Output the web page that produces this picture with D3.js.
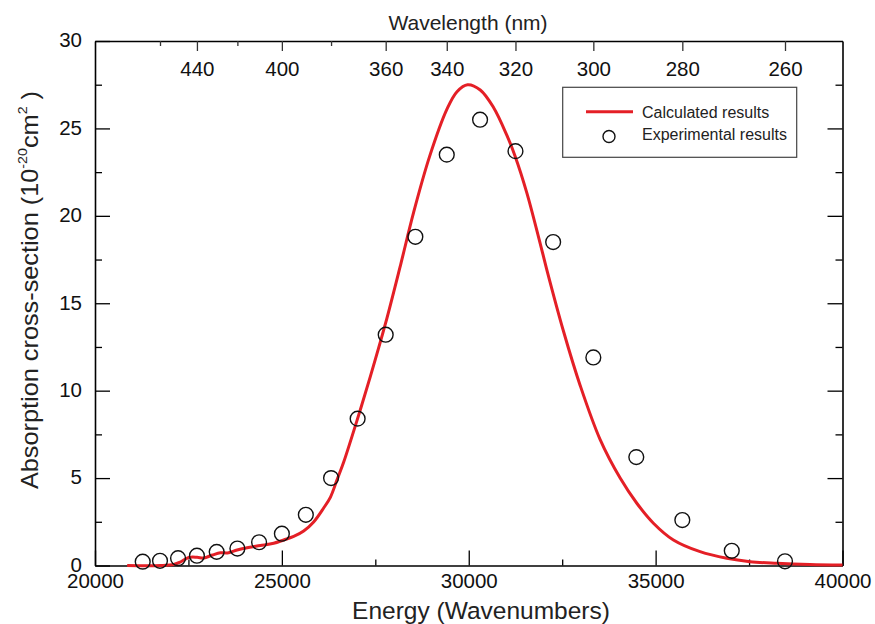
<!DOCTYPE html>
<html>
<head>
<meta charset="utf-8">
<script src="https://cdn.jsdelivr.net/npm/d3@7/dist/d3.min.js"></script>
<style>
  html, body { margin: 0; padding: 0; background: #fff; }
  svg { display: block; font-family: "Liberation Sans", Arial, Helvetica, sans-serif; }
</style>
</head>
<body>
<svg id="chart" width="875" height="624"></svg>
<script>
// Experimental absorption cross-section, sampled every 10 nm
const expWavelength = [470, 460, 450, 440, 430, 420, 410, 400, 390, 380, 370,
                       360, 350, 340, 330, 320, 310, 300, 290, 280, 270, 260];
const expValue = [0.22, 0.27, 0.42, 0.56, 0.78, 0.97, 1.33, 1.82, 2.9, 5.0, 8.4,
                  13.2, 18.8, 23.5, 25.5, 23.7, 18.5, 11.9, 6.2, 2.6, 0.84, 0.24];

// Calculated spectrum (energy in cm^-1, cross-section in 1e-20 cm^2)
const calcEnergy = [20861, 21751, 22107, 22286, 22508, 22733, 22909, 23142, 23356, 23543,
                    23802, 24104, 24425, 24781, 25048, 25316, 25583, 25850, 26118, 26297,
                    26476, 26652, 27011, 27366, 27767, 28188, 28525, 28953, 29417, 29685,
                    29968, 30308, 30663, 31021, 31243, 31556, 31973, 32091, 32535, 32981,
                    33516, 34051, 34497, 34941, 35476, 36190, 36904, 37527, 38241, 39131, 40000];
const calcValue = [0, 0, 0.06, 0.2, 0.46, 0.47, 0.43, 0.6, 0.73, 0.72,
                   0.89, 1.03, 1.14, 1.27, 1.46, 1.66, 1.97, 2.49, 3.29, 3.9,
                   4.9, 5.9, 8.3, 10.8, 13.8, 17.3, 20.2, 23.4, 26.1, 27.1,
                   27.5, 27.2, 26.2, 24.6, 23.4, 21.3, 17.9, 16.9, 13.4, 10.3,
                   7.2, 5.0, 3.56, 2.42, 1.46, 0.79, 0.41, 0.22, 0.13, 0.06, 0.03];

// Axis ticks
const energyMajor = [20000, 25000, 30000, 35000, 40000];
const energyMinor = [22500, 27500, 32500, 37500];
const yMajor = [0, 5, 10, 15, 20, 25, 30];
const yMinor = [2.5, 7.5, 12.5, 17.5, 22.5, 27.5];
const wavelengthMajor = [440, 400, 360, 340, 320, 300, 280, 260];
const wavelengthMinor = [460, 420, 380];

const legendLabels = ["Calculated results", "Experimental results"];

const RED = "#e41f26";
const svg = d3.select("#chart");
const m = { left: 95, right: 842.5, top: 41, bottom: 565.5 };

const x = d3.scaleLinear().domain([20000, 40000]).range([m.left, m.right]);
const y = d3.scaleLinear().domain([0, 30]).range([m.bottom, m.top]);
const toEnergy = nm => 1e7 / nm;

function styleAxis(g) {
  g.selectAll(".domain").attr("stroke", "#000").attr("stroke-width", 1.6);
  g.selectAll(".tick line").attr("stroke", "#000").attr("stroke-width", 1.3);
  g.selectAll(".tick text").attr("fill", "#111").attr("font-size", 20.5);
}

// Bottom axis (ticks point inward)
svg.append("g").attr("transform", `translate(0,${m.bottom})`)
  .call(d3.axisBottom(x).tickValues(energyMajor).tickFormat(d3.format("d"))
    .tickSizeInner(-15).tickSizeOuter(0).tickPadding(7.5))
  .call(styleAxis);
svg.append("g").attr("transform", `translate(0,${m.bottom})`)
  .call(d3.axisBottom(x).tickValues(energyMinor).tickFormat("")
    .tickSizeInner(-6).tickSizeOuter(0))
  .call(g => g.select(".domain").remove())
  .call(styleAxis);

// Left axis
svg.append("g").attr("transform", `translate(${m.left},0)`)
  .call(d3.axisLeft(y).tickValues(yMajor).tickFormat(d3.format("d"))
    .tickSizeInner(-15).tickSizeOuter(0).tickPadding(13))
  .call(styleAxis)
  .call(g => g.selectAll(".tick text").attr("dy", "0.28em"));
svg.append("g").attr("transform", `translate(${m.left},0)`)
  .call(d3.axisLeft(y).tickValues(yMinor).tickFormat("")
    .tickSizeInner(-7).tickSizeOuter(0))
  .call(g => g.select(".domain").remove())
  .call(styleAxis);

// Right axis (no labels)
svg.append("g").attr("transform", `translate(${m.right},0)`)
  .call(d3.axisRight(y).tickValues(yMajor.slice(1, -1)).tickFormat("")
    .tickSizeInner(-15).tickSizeOuter(0))
  .call(styleAxis);
svg.append("g").attr("transform", `translate(${m.right},0)`)
  .call(d3.axisRight(y).tickValues(yMinor).tickFormat("")
    .tickSizeInner(-7).tickSizeOuter(0))
  .call(g => g.select(".domain").remove())
  .call(styleAxis);

// Top axis: wavelength in nm, labels drawn inside the frame
svg.append("g").attr("transform", `translate(0,${m.top})`)
  .call(d3.axisBottom(x).tickValues(wavelengthMajor.map(toEnergy))
    .tickFormat(d => Math.round(1e7 / d))
    .tickSizeInner(10).tickSizeOuter(0).tickPadding(10))
  .call(styleAxis)
  .call(g => g.selectAll(".tick line").attr("stroke", "#333"));
svg.append("g").attr("transform", `translate(0,${m.top})`)
  .call(d3.axisBottom(x).tickValues(wavelengthMinor.map(toEnergy)).tickFormat("")
    .tickSizeInner(5).tickSizeOuter(0))
  .call(g => g.select(".domain").remove())
  .call(styleAxis)
  .call(g => g.selectAll(".tick line").attr("stroke", "#333"));

// Calculated curve
const line = d3.line()
  .x((d, i) => x(calcEnergy[i]))
  .y(d => y(d))
  .curve(d3.curveCatmullRom.alpha(0.5));
svg.append("path")
  .datum(calcValue)
  .attr("d", line)
  .attr("fill", "none")
  .attr("stroke", RED)
  .attr("stroke-width", 3)
  .attr("stroke-linejoin", "round");

// Experimental points
svg.append("g").selectAll("circle")
  .data(expValue)
  .join("circle")
  .attr("cx", (d, i) => x(toEnergy(expWavelength[i])))
  .attr("cy", d => y(d))
  .attr("r", 7.4)
  .attr("fill", "none")
  .attr("stroke", "#111")
  .attr("stroke-width", 1.4);

// Axis titles
svg.append("text")
  .attr("x", 468).attr("y", 30)
  .attr("text-anchor", "middle")
  .attr("font-size", 21).attr("fill", "#222")
  .text("Wavelength (nm)");

svg.append("text")
  .attr("x", 481).attr("y", 619)
  .attr("text-anchor", "middle")
  .attr("font-size", 24.5).attr("fill", "#222")
  .text("Energy (Wavenumbers)");

const yTitle = svg.append("text")
  .attr("transform", "translate(38,290) rotate(-90) scale(1.1,1)")
  .attr("text-anchor", "middle")
  .attr("font-size", 23).attr("fill", "#222");
yTitle.append("tspan").text("Absorption cross-section (10");
yTitle.append("tspan").attr("font-size", 13).attr("dy", -11).text("-20");
yTitle.append("tspan").attr("dy", 11).text("cm");
yTitle.append("tspan").attr("font-size", 13).attr("dy", -11).text("2");
yTitle.append("tspan").attr("dy", 11).text(" )");

// Legend
const lg = svg.append("g");
lg.append("rect")
  .attr("x", 562.7).attr("y", 87.3).attr("width", 234).attr("height", 70)
  .attr("fill", "#fff").attr("stroke", "#444").attr("stroke-width", 1.2);
lg.append("line")
  .attr("x1", 586).attr("x2", 633).attr("y1", 111.7).attr("y2", 111.7)
  .attr("stroke", RED).attr("stroke-width", 3);
lg.append("circle")
  .attr("cx", 609).attr("cy", 136.5).attr("r", 6)
  .attr("fill", "none").attr("stroke", "#111").attr("stroke-width", 1.4);
lg.selectAll("text.lbl")
  .data(legendLabels)
  .join("text")
  .attr("class", "lbl")
  .attr("x", 642)
  .attr("y", (d, i) => 117.5 + i * 22.5)
  .attr("font-size", 16).attr("fill", "#222")
  .text(d => d);
</script>
</body>
</html>
